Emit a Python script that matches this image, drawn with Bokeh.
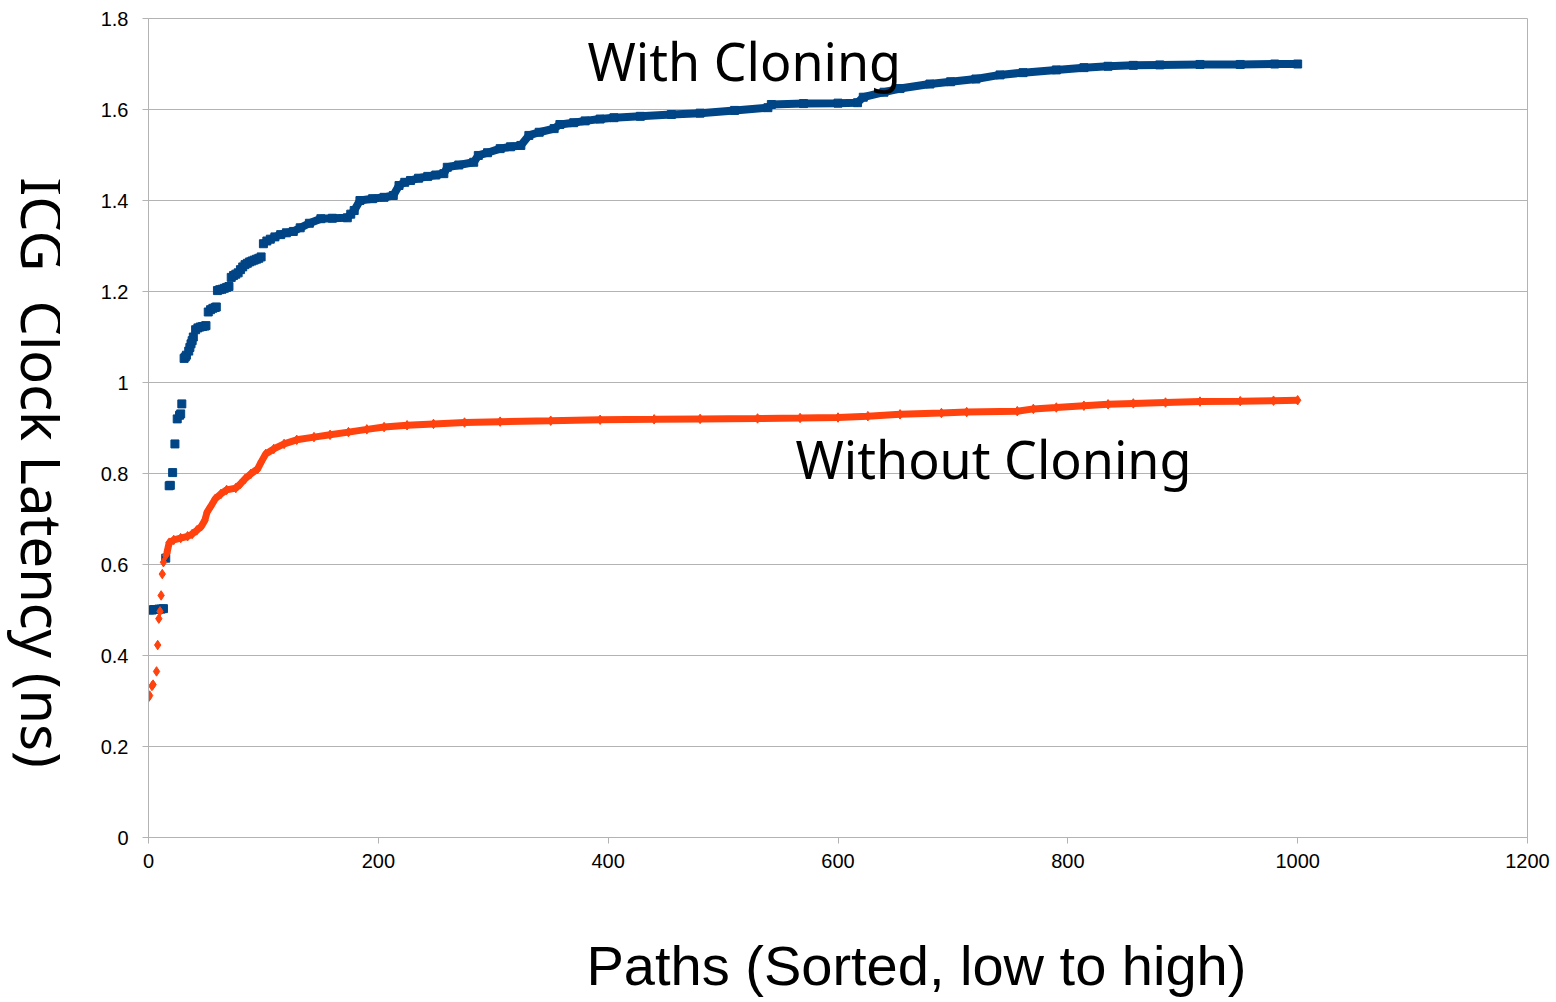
from bokeh.plotting import figure
from bokeh.models import Label, FixedTicker, CustomJSTickFormatter
from bokeh.layouts import row, column
from bokeh.embed import file_html
from bokeh.resources import INLINE
import math

# ---------------- data ----------------
x_ticks = [0, 200, 400, 600, 800, 1000, 1200]
y_ticks = [0, 0.2, 0.4, 0.6, 0.8, 1.0, 1.2, 1.4, 1.6, 1.8]

# With Cloning (sorted paths -> ICG clock latency, ns)
with_path = [1, 3, 5, 7, 9, 11, 13, 15, 18, 19, 21, 23, 25, 27, 28, 29,
             31, 32, 33, 35, 36, 37, 38, 39, 41, 43, 45, 47, 49, 50,
             52, 54, 56, 58, 59, 60, 62, 64, 66, 68, 70,
             72, 74, 76, 78, 80, 82, 84, 86, 88, 90, 92, 94, 96, 98,
             100, 103, 106, 110, 115, 120, 126, 132, 140, 150, 160, 173, 176, 179,
             184, 195, 205, 213, 218, 223, 228, 235, 243, 250, 257, 260, 270,
             283, 287, 295, 306, 315, 324, 331, 340, 353, 358, 370, 380, 393,
             405, 428, 455, 480, 510, 539, 542, 570, 600, 617, 622, 640, 654,
             680, 698, 720, 741, 761, 790, 814, 835, 857, 880, 915, 950, 980, 1000]
with_ns = [0.500, 0.500, 0.501, 0.501, 0.502, 0.502, 0.503, 0.614, 0.773, 0.774,
           0.802, 0.865, 0.920, 0.928, 0.931, 0.953,
           1.053, 1.056, 1.060, 1.069, 1.077, 1.085, 1.092, 1.100, 1.116, 1.120,
           1.122, 1.123, 1.124, 1.125,
           1.155, 1.160, 1.163, 1.165, 1.166, 1.202, 1.204, 1.205, 1.207, 1.209, 1.211,
           1.231, 1.235, 1.238, 1.241, 1.248, 1.254, 1.259, 1.262, 1.265, 1.267,
           1.269, 1.271, 1.273, 1.276,
           1.305, 1.311, 1.315, 1.320, 1.325, 1.329, 1.332, 1.340, 1.350, 1.360,
           1.361, 1.362, 1.370, 1.378,
           1.400, 1.404, 1.407, 1.411, 1.433, 1.440, 1.444, 1.449, 1.453, 1.456,
           1.459, 1.473, 1.478,
           1.484, 1.499, 1.505, 1.514, 1.518, 1.521, 1.543, 1.550, 1.558, 1.567,
           1.571, 1.575, 1.579,
           1.582, 1.585, 1.589, 1.592, 1.598, 1.604, 1.611, 1.613, 1.614, 1.615,
           1.627, 1.638, 1.646,
           1.656, 1.661, 1.667, 1.676, 1.681, 1.687, 1.692, 1.695, 1.697, 1.698,
           1.699, 1.699, 1.700, 1.700]

# Without Cloning
without_path = [0, 1, 3, 4, 7, 8, 9, 10, 11, 12, 13, 15, 16,
                18, 22, 28, 34, 38, 42, 46, 49, 51, 54, 58, 63, 68, 76, 80, 84,
                89, 95, 98, 102, 109, 118, 129, 144, 158, 174, 190, 205, 225,
                248, 275, 306, 350, 393, 440, 480, 530, 567, 600, 626, 654, 690,
                712, 756, 770, 790, 814, 835, 857, 885, 915, 950, 979, 1000]
without_ns = [0.308, 0.312, 0.333, 0.336, 0.365, 0.423, 0.481, 0.497, 0.532,
              0.579, 0.605, 0.620, 0.625,
              0.648, 0.654, 0.658, 0.662, 0.667, 0.675, 0.684, 0.697, 0.715,
              0.727, 0.744, 0.755, 0.764, 0.768, 0.777, 0.788,
              0.799, 0.810, 0.825, 0.843, 0.854, 0.865, 0.874, 0.880, 0.885,
              0.891, 0.897, 0.902, 0.906,
              0.909, 0.912, 0.914, 0.916, 0.918, 0.919, 0.920, 0.921, 0.922,
              0.923, 0.926, 0.930, 0.933,
              0.935, 0.937, 0.942, 0.945, 0.949, 0.952, 0.954, 0.956, 0.958,
              0.959, 0.960, 0.961]

x_title = "Paths (Sorted, low to high)"
y_title = "ICG\u00a0 Clock Latency (ns)"

# ---------------- styling ----------------
BLUE = "#004586"
ORANGE = "#ff420e"
GRID = "#b3b3b3"

YLAB_W = 60
MAIN_H = 882
XLAB_H = 118
TOTAL_W = 1552


def blank(width, height):
    f = figure(width=width, height=height, x_range=(0, width), y_range=(0, height),
               output_backend="svg", toolbar_location=None,
               x_axis_location=None, y_axis_location=None,
               min_border=0, min_border_left=0, min_border_right=0,
               min_border_top=0, min_border_bottom=0)
    f.grid.visible = False
    f.outline_line_color = None
    f.background_fill_color = "white"
    f.border_fill_color = "white"
    return f


# ---------------- main chart ----------------
p = figure(frame_width=1379, frame_height=819, x_range=(0, 1200), y_range=(0, 1.8),
           output_backend="svg", toolbar_location=None,
           min_border_left=88, min_border_right=25,
           min_border_top=18, min_border_bottom=45)
p.background_fill_color = "white"
p.border_fill_color = "white"
p.outline_line_color = GRID
p.outline_line_width = 1

p.xgrid.visible = False
p.ygrid.grid_line_color = GRID
p.ygrid.grid_line_width = 1

p.xaxis.ticker = FixedTicker(ticks=x_ticks)
p.yaxis.ticker = FixedTicker(ticks=y_ticks)
p.yaxis.formatter = CustomJSTickFormatter(code="return String(Number(tick.toFixed(1)));")

for ax in (p.xaxis, p.yaxis):
    ax.axis_line_color = GRID
    ax.major_tick_line_color = GRID
    ax.major_tick_out = 6
    ax.major_tick_in = 0
    ax.minor_tick_line_color = None
    ax.major_label_text_font = "Liberation Sans"
    ax.major_label_text_font_size = "20px"
    ax.major_label_text_color = "black"
p.xaxis.major_label_standoff = 10
p.yaxis.major_label_standoff = 14

# dense parts drawn as a thick line through the same data
w_dense = [(x, y) for x, y in zip(with_path, with_ns) if x >= 100]
o_dense = [(x, y) for x, y in zip(without_path, without_ns) if x >= 16]

p.line([a for a, b in w_dense], [b for a, b in w_dense], line_color=BLUE, line_width=8)
p.line([a for a, b in o_dense], [b for a, b in o_dense], line_color=ORANGE, line_width=7)

p.scatter(with_path, with_ns, marker="square", size=8, fill_color=BLUE, line_color=BLUE)
p.scatter(without_path, without_ns, marker="diamond", size=9.5, fill_color=ORANGE, line_color=ORANGE)

p.add_layout(Label(x=382, y=1.707, text="With Cloning", text_font="Noto Sans",
                   text_font_size="52px", text_color="black",
                   text_baseline="alphabetic", text_align="left"))
p.add_layout(Label(x=563, y=0.834, text="Without Cloning", text_font="Noto Sans",
                   text_font_size="52px", text_color="black",
                   text_baseline="alphabetic", text_align="left"))

# ---------------- y axis title (reads top to bottom) ----------------
ylab = blank(YLAB_W, MAIN_H)
ylab.add_layout(Label(x=42, y=393, text=y_title, angle=-math.pi / 2,
                      text_font="Noto Sans", text_font_size="56px", text_color="black",
                      text_align="center", text_baseline="alphabetic"))

# ---------------- x axis title ----------------
xlab = blank(TOTAL_W, XLAB_H)
xlab.add_layout(Label(x=586, y=XLAB_H - 83, text=x_title,
                      text_font="Liberation Sans", text_font_size="56px", text_color="black",
                      text_align="left", text_baseline="alphabetic"))

layout = column(row(ylab, p, spacing=0), xlab, spacing=0)

open("out.html", "w").write(file_html(layout, INLINE))
